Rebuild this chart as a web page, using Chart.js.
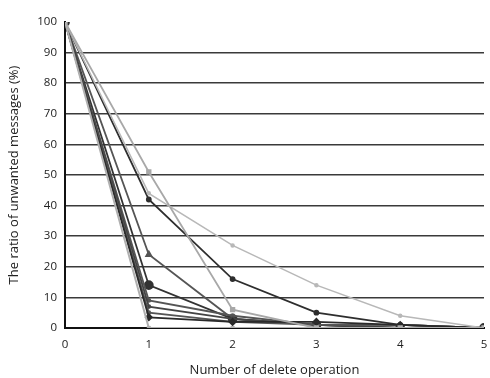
<!DOCTYPE html>
<html><head><meta charset="utf-8">
<script src="https://cdn.jsdelivr.net/npm/chart.js@4/dist/chart.umd.min.js"></script>
<style>html,body{margin:0;padding:0;background:#fff}#wrap{width:490px;height:378px}</style>
</head><body><div id="wrap"><canvas id="c"></canvas></div>
<script>
const xLabels = [0, 1, 2, 3, 4, 5];
const yTicks = [0, 10, 20, 30, 40, 50, 60, 70, 80, 90, 100];
const seriesA = [100, 51, 6, 0, 0, 0];
const seriesB = [100, 44, 27, 14, 4, 0];
const seriesC = [100, 42, 16, 5, 1, 0];
const seriesD = [100, 24, 3, 1, 0, 0];
const seriesE = [100, 14, 3, 1, 0, 0];
const seriesF = [100, 9, 4, 1, 1, 0];
const seriesG = [100, 7, 3, 1, 0, 0];
const seriesH = [100, 5, 2, 1, 1, 0];
const seriesI = [100, 3.5, 2, 2, 1, 0];
const seriesJ = [100, 0, 0, 0, 0, 0];

function mk(data, color, style, w, r) {
  return { data: data.map((v, i) => ({x: xLabels[i], y: v})), borderColor: color, backgroundColor: color,
    borderWidth: w || 1.8, pointStyle: style, pointRadius: r === undefined ? 2.5 : r, tension: 0, fill: false };
}
new Chart(document.getElementById('c'), {
  type: 'line',
  data: { datasets: [
    mk(seriesJ, '#b0b0b0', 'crossRot', 2),
    mk(seriesA, '#a8a8a8', 'rect'),
    mk(seriesB, '#b8b8b8', 'circle', 1.5, 1.5),
    mk(seriesI, '#2a2a2a', 'rectRot', 1.8, 3),
    mk(seriesH, '#555', 'circle', 1.8, 1.5),
    mk(seriesG, '#444', 'circle', 1.8, 1.5),
    mk(seriesF, '#555', 'circle', 1.8, 1.5),
    mk(seriesE, '#333', 'circle', 1.8, 4),
    mk(seriesD, '#555', 'triangle', 1.8, 3),
    mk(seriesC, '#2e2e2e', 'circle', 1.8, 2),
  ]},
  options: {
    responsive: true, maintainAspectRatio: false, animation: false,
    layout: { padding: { top: 22, right: 5, left: 0, bottom: 0 } },
    plugins: { legend: { display: false }, tooltip: { enabled: false } },
    scales: {
      x: { type: 'linear', min: 0, max: 5,
        afterBuildTicks: s => { s.ticks = xLabels.map(v => ({value: v})); },
        grid: { display: false, drawTicks: false },
        border: { color: '#111', width: 2 },
        ticks: { color: '#222', padding: 10, font: { family: 'Open Sans', size: 11.5 } },
        title: { display: true, text: 'Number of delete operation', color: '#222', padding: { top: 5, bottom: 0 }, font: { family: 'Open Sans', size: 13 } },
        afterFit: s => { s.height = 50; s.paddingRight = 0; s.paddingLeft = 0; }
      },
      y: { min: 0, max: 100,
        afterBuildTicks: s => { s.ticks = yTicks.map(v => ({value: v})); },
        grid: { drawTicks: false, color: c => (c.tick.value === 0 || c.tick.value === 100) ? 'rgba(0,0,0,0)' : '#3a3a3a', lineWidth: 1.5 },
        border: { color: '#111', width: 2 },
        ticks: { color: '#222', padding: 8, font: { family: 'Open Sans', size: 11.5 } },
        title: { display: true, text: 'The ratio of unwanted messages (%)', color: '#222', padding: { top: 6, bottom: 6 }, font: { family: 'Open Sans', size: 13 } },
        afterFit: s => { s.width = 65; }
      }
    }
  }
});
</script></body></html>
